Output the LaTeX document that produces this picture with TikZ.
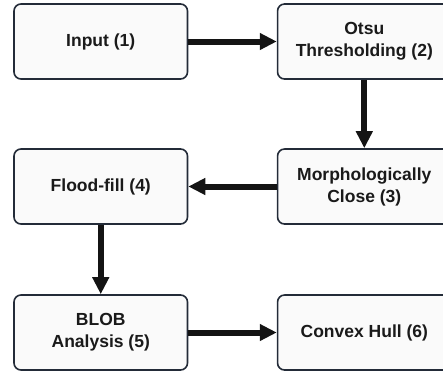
\documentclass[tikz,border=0pt]{standalone}
\usepackage{fontspec}
\setmainfont{Liberation Sans}
\usetikzlibrary{arrows.meta}
\definecolor{boxline}{HTML}{232B38}
\definecolor{boxfill}{HTML}{FAFAFA}
\definecolor{txt}{HTML}{1A1A1A}
\begin{document}
\begin{tikzpicture}[x=1pt,y=-1pt,
  stepbox/.style={draw=boxline, fill=boxfill, line width=1.6pt, rounded corners=7pt,
    minimum width=173.5pt, minimum height=75pt, inner sep=0pt, align=center,
    text=txt, font=\bfseries\fontsize{17.5}{22}\selectfont},
  flow/.style={line width=6pt, -{Triangle[length=17pt,width=16pt]}, black!92}]
\useasboundingbox (0,0) rectangle (443,373);
\node[stepbox] (n1) at (100.75,41.5) {Input (1)};
\node[stepbox] (n2) at (364.3,41.5) {Otsu\\Thresholding (2)};
\node[stepbox] (n3) at (364.3,186.5) {Morphologically\\Close (3)};
\node[stepbox] (n4) at (100.75,186.5) {Flood-fill (4)};
\node[stepbox] (n5) at (100.75,332.5) {BLOB\\Analysis (5)};
\node[stepbox] (n6) at (364.3,332.5) {Convex Hull (6)};
\draw[flow] (n1.east) -- (n2.west);
\draw[flow] (n2.south) -- (n3.north);
\draw[flow] (n3.west) -- (n4.east);
\draw[flow] (n4.south) -- (n5.north);
\draw[flow] (n5.east) -- (n6.west);
\end{tikzpicture}
\end{document}
